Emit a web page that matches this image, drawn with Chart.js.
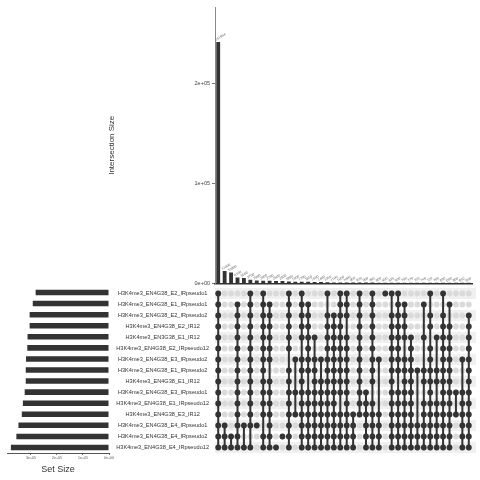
<!DOCTYPE html>
<html><head><meta charset="utf-8">
<script src="https://cdn.jsdelivr.net/npm/chart.js@4"></script>
<style>
html,body{margin:0;padding:0;background:#fff;width:480px;height:480px;overflow:hidden}
canvas{position:absolute}
</style></head><body>
<canvas id="top" width="480" height="290" style="left:0;top:0;width:480px;height:290px"></canvas>
<canvas id="sets" width="215" height="196" style="left:0;top:284px;width:215px;height:196px"></canvas>
<canvas id="matrix" width="370" height="196" style="left:110px;top:284px;width:370px;height:196px"></canvas>
<script>
const setNames = [
  'H3K4me3_EN4G38_E2_IRpseudo1','H3K4me3_EN4G38_E1_IRpseudo1','H3K4me3_EN4G38_E2_IRpseudo2',
  'H3K4me3_EN4G38_E2_IR12','H3K4me3_EN3G38_E1_IR12','H3K4me3_EN4G38_E2_IRpseudo12',
  'H3K4me3_EN4G38_E3_IRpseudo2','H3K4me3_EN4G38_E1_IRpseudo2','H3K4me3_EN4G38_E1_IR12',
  'H3K4me3_EN4G38_E3_IRpseudo1','H3K4me3_EN4G38_E1_IRpseudo12','H3K4me3_EN4G38_E3_IR12',
  'H3K4me3_EN4G38_E4_IRpseudo1','H3K4me3_EN4G38_E4_IRpseudo2','H3K4me3_EN4G38_E4_IRpseudo12'
];
const setSizes = [282000,293000,305000,305000,313000,314000,319000,320000,320000,324000,331000,335000,348000,356000,377000];
const setSizeTicks = [0,100000,200000,300000];
const intersectionSizes = [241984,12400,10900,6100,5500,3700,2900,2800,2700,2600,2500,1900,1800,1700,1650,1500,1400,1350,1100,1050,1000,950,920,900,880,860,850,830,800,780,770,750,740,720,700,690,680,660,650,640];
const intersectionTicks = [0,100000,200000];
const memberships = [
  [0,1,2,3,4,5,6,7,8,9,10,11,12,13,14],
  [12,13,14],
  [13,14],
  [1,2,3,4,5,6,7,8,9,10,11,12,13,14],
  [12,14],
  [0,1,2,3,4,5,6,7,8,9,10,11,12,14],
  [12],
  [0,1,2,3,4,5,6,7,8,9,10,11,13,14],
  [1,2,3,4,5,6,8,9,10,11,12,13,14],
  [14],
  [13],
  [0,1,2,3,4,5,7,8,9,10,11,12,13,14],
  [6,9,11],
  [0,1,2,3,4,6,7,8,9,10,11,12,13,14],
  [1,2,3,4,5,6,7,9,10,11,12,13,14],
  [4,6,7,8,9,10,11,12,13,14],
  [6,8,9,10,11,12,13,14],
  [0,2,3,4,5,6,7,8,9,10,11,12,13,14],
  [2,3,4,5,6,7,8,9,10,11,12,13,14],
  [0,1,2,3,4,5,6,7,8,9,11,12,13,14],
  [0,1,2,4,5,6,7,8,9,10,11,12,13,14],
  [11,12,13,14],
  [0,1,2,3,4,5,6,7,8,9,10,11],
  [9,10,11,12,13,14],
  [0,1,2,3,4,5,6,7,8,10,11,12,13,14],
  [6,11,12,13,14],
  [0],
  [0,2,3,4,5,6,7,8,9,10,11,12,13,14],
  [0,1,2,3,4,5,6,7,9,10,11,12,13,14],
  [1,2,3,4,6,7,8,9,10,11,12,13,14],
  [4,5,6,7,8,9,10,11,12,13,14],
  [7,12,13,14],
  [1,4,7,8,10,11,12,13,14],
  [0,2,3,5,6,7,8,9,10,11,12,13,14],
  [4,7,8,10,11,12,13,14],
  [0,2,3,4,5,6,7,8,9,10,11,12,13,14],
  [1,3,4,5,6,7,8,9,10,11,12,13,14],
  [9,11],
  [6,9,10,11,12,13,14],
  [2,3,4,5,6,7,8,9,10,11,12,13,14]
];
const colLabels = intersectionSizes.map((v,i)=>'I'+(i+1));

const FONT = 'Liberation Sans';
const DARK = '#333333';
function sci(v){
  if(v===0) return '0e+00';
  const e = Math.floor(Math.log10(v));
  const m = Math.round(v/Math.pow(10,e));
  return m+'e+'+String(e).padStart(2,'0');
}

const barLabels = {
  id:'barLabels',
  afterDatasetsDraw(chart){
    const ctx = chart.ctx;
    const meta = chart.getDatasetMeta(0);
    ctx.save();
    ctx.font = '3.5px "'+FONT+'"';
    ctx.fillStyle = '#666';
    meta.data.forEach((bar,i)=>{
      ctx.save();
      ctx.translate(bar.x-2.5, bar.y-1);
      ctx.rotate(-Math.PI/6);
      ctx.fillText(String(intersectionSizes[i]),0,0);
      ctx.restore();
    });
    ctx.restore();
  }
};

new Chart(document.getElementById('top'), {
  type:'bar',
  data:{labels:colLabels, datasets:[{data:intersectionSizes, backgroundColor:DARK, barPercentage:0.6, categoryPercentage:1}]},
  options:{
    responsive:false, animation:false, events:[],
    layout:{padding:{left:107, top:7, right:8, bottom:0}},
    plugins:{legend:{display:false}, tooltip:{enabled:false}},
    scales:{
      x:{ticks:{display:false}, grid:{display:false}, border:{color:'#333', width:1.5},
         afterFit(s){ s.height = 6.5; }},
      y:{min:0, max:277000,
         afterBuildTicks(s){ s.ticks = intersectionTicks.map(v=>({value:v})); },
         ticks:{callback:v=>sci(v), font:{size:5.5, family:FONT}, color:'#444', padding:2},
         grid:{drawOnChartArea:false, tickLength:3, color:'#777'},
         border:{color:'#888'},
         title:{display:true, text:'Intersection Size', font:{size:8, family:FONT}, color:'#333', padding:0},
         afterFit(s){ s.width = 108; }}
    }
  },
  plugins:[barLabels]
});

new Chart(document.getElementById('sets'), {
  type:'bar',
  data:{labels:setNames, datasets:[{data:setSizes, backgroundColor:DARK, barPercentage:0.5, categoryPercentage:1}]},
  options:{
    indexAxis:'y', responsive:false, animation:false, events:[],
    layout:{padding:{left:7, right:106, top:3, bottom:5}},
    plugins:{legend:{display:false}, tooltip:{enabled:false}},
    scales:{
      x:{reverse:true, min:0, max:392000,
         afterBuildTicks(s){ s.ticks = setSizeTicks.map(v=>({value:v})); },
         ticks:{callback:v=>sci(v), font:{size:3.5, family:FONT}, color:'#555', padding:1, maxRotation:0},
         grid:{drawOnChartArea:false, tickLength:2, color:'#777'},
         border:{color:'#555'},
         title:{display:true, text:'Set Size', font:{size:9, family:FONT}, color:'#333', padding:{top:2,bottom:0}},
         afterFit(s){ s.height = 22; }},
      y:{display:false}
    }
  }
});

const rowBands = {
  id:'rowBands',
  beforeDatasetsDraw(chart){
    const {ctx, chartArea, scales:{y}} = chart;
    const h = chartArea.height/setNames.length;
    ctx.save();
    ctx.fillStyle = '#f0f0f0';
    setNames.forEach((n,i)=>{
      if(i%2===0){
        const cy = y.getPixelForValue(i);
        ctx.fillRect(chartArea.left, cy-h/2, chartArea.right-chartArea.left+4, h);
      }
    });
    ctx.restore();
  }
};

const datasets = [];
memberships.forEach((rows,j)=>{
  datasets.push({
    data: rows.map(r=>({x:j, y:setNames[r]})),
    showLine:true, borderColor:DARK, borderWidth:2, fill:false, tension:0,
    pointRadius:2.9, pointBackgroundColor:DARK, pointBorderColor:DARK, pointBorderWidth:0
  });
});
const emptyDots = [];
intersectionSizes.forEach((v,j)=>{ setNames.forEach(n=>emptyDots.push({x:j, y:n})); });
datasets.push({data:emptyDots, pointRadius:2.9, pointBackgroundColor:'#dadada', pointBorderWidth:0, showLine:false});

new Chart(document.getElementById('matrix'), {
  type:'scatter',
  data:{datasets},
  options:{
    responsive:false, animation:false, events:[],
    layout:{padding:{left:0, right:8, top:3, bottom:27}},
    plugins:{legend:{display:false}, tooltip:{enabled:false}},
    scales:{
      x:{type:'linear', min:-0.5, max:39.5, display:false},
      y:{type:'category', labels:setNames, offset:true,
         ticks:{font:{size:5.6, family:FONT}, color:'#333', crossAlign:'center', padding:0, autoSkip:false},
         grid:{display:false, tickLength:6}, border:{display:false},
         afterFit(s){ s.width = 105; }}
    }
  },
  plugins:[rowBands]
});
</script>
</body></html>
